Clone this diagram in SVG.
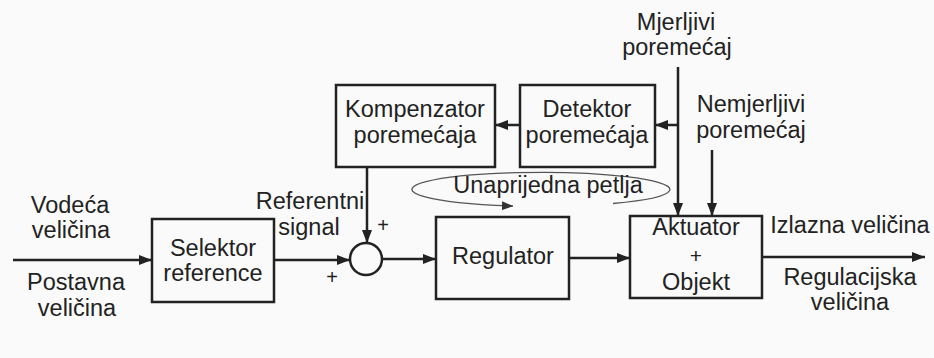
<svg xmlns="http://www.w3.org/2000/svg" width="934" height="358" viewBox="0 0 934 358">
<style>
text{font-family:"Liberation Sans",Arial,sans-serif;font-size:23.5px;fill:#222;text-anchor:middle}
.box{fill:none;stroke:#222;stroke-width:2.5}
.ln{fill:none;stroke:#222;stroke-width:2.5}
.thin{fill:none;stroke:#555;stroke-width:1.3}
.pl{font-size:20px;fill:#222}
.pls{font-size:21px;fill:#222}
</style>
<defs>
<marker id="ah" markerUnits="userSpaceOnUse" markerWidth="14" markerHeight="10" refX="13" refY="5" orient="auto">
<path d="M0,0 L13,5 L0,10 Z" fill="#222"/>
</marker>
<marker id="ah2" markerUnits="userSpaceOnUse" markerWidth="12" markerHeight="9" refX="11" refY="4.5" orient="auto">
<path d="M0,0 L11,4.5 L0,9 Z" fill="#333"/>
</marker>
</defs>
<rect width="934" height="358" fill="#fafafa"/>

<g id="connectors">
<line class="ln" x1="13" y1="260" x2="152" y2="260" marker-end="url(#ah)"/>
<line class="ln" x1="274" y1="260" x2="350" y2="260" marker-end="url(#ah)"/>
<line class="ln" x1="382" y1="259" x2="436" y2="259" marker-end="url(#ah)"/>
<line class="ln" x1="569" y1="258" x2="630" y2="258" marker-end="url(#ah)"/>
<line class="ln" x1="762" y1="257" x2="925" y2="257" marker-end="url(#ah)"/>
<line class="ln" x1="367" y1="167" x2="367" y2="243" marker-end="url(#ah)"/>
<line class="ln" x1="678" y1="67" x2="678" y2="216" marker-end="url(#ah)"/>
<line class="ln" x1="678" y1="125" x2="655" y2="125" marker-end="url(#ah)"/>
<line class="ln" x1="520" y1="125" x2="495" y2="125" marker-end="url(#ah)"/>
<line class="ln" x1="712" y1="150" x2="712" y2="216" marker-end="url(#ah)"/>
<path class="thin" d="M613,203.5 A129,17 0 1 0 513,206" marker-end="url(#ah2)"/>
</g>

<g id="selektor">
<rect class="box" x="152" y="219" width="122" height="83"/>
<text x="213" y="256">Selektor</text>
<text x="213" y="281">reference</text>
</g>
<g id="sum">
<circle class="box" cx="366" cy="259" r="16"/>
<text class="pl" x="383" y="232">+</text>
<text class="pl" x="332" y="284">+</text>
</g>
<g id="kompenzator">
<rect class="box" x="336" y="85" width="159" height="82"/>
<text x="415" y="117">Kompenzator</text>
<text x="415" y="143">poremećaja</text>
</g>
<g id="detektor">
<rect class="box" x="520" y="85" width="135" height="82"/>
<text x="587" y="117">Detektor</text>
<text x="587" y="143">poremećaja</text>
</g>
<g id="regulator">
<rect class="box" x="436" y="217" width="133" height="82"/>
<text x="503" y="264">Regulator</text>
</g>
<g id="aktuator">
<rect class="box" x="630" y="216" width="132" height="82"/>
<text x="696" y="235">Aktuator</text>
<text class="pls" x="696" y="263">+</text>
<text x="696" y="289.5">Objekt</text>
</g>

<g id="labels">
<text x="70" y="213">Vodeća</text>
<text x="71" y="238">veličina</text>
<text x="76" y="290">Postavna</text>
<text x="77" y="316">veličina</text>
<text x="310" y="209">Referentni</text>
<text x="309" y="235">signal</text>
<text x="676" y="30">Mjerljivi</text>
<text x="677" y="55">poremećaj</text>
<text x="751" y="112">Nemjerljivi</text>
<text x="751" y="138">poremećaj</text>
<text x="548" y="193">Unaprijedna petlja</text>
<text x="850" y="233">Izlazna veličina</text>
<text x="850" y="285">Regulacijska</text>
<text x="850" y="310">veličina</text>
</g>
</svg>
